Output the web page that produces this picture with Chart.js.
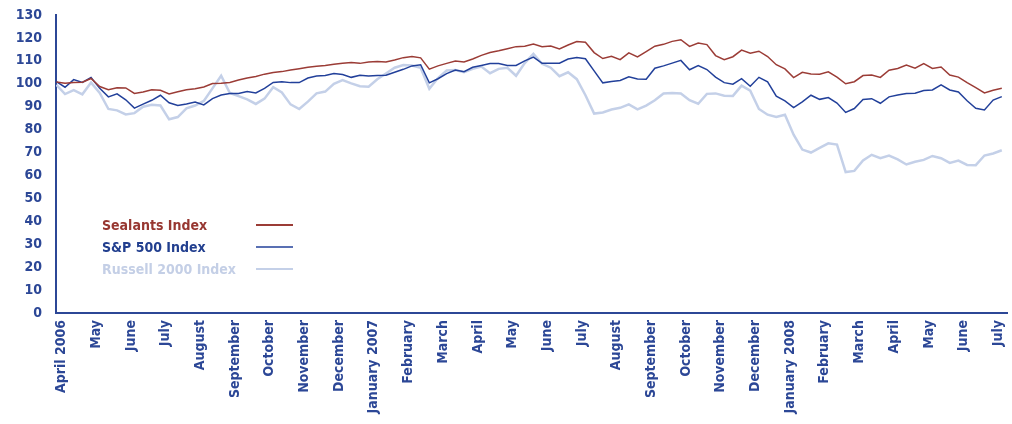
<!DOCTYPE html>
<html>
<head>
<meta charset="utf-8">
<script src="https://cdn.jsdelivr.net/npm/chart.js@4.4.1/dist/chart.umd.min.js"></script>
<style>
  html, body { margin: 0; padding: 0; background: #ffffff; }
  #wrap { width: 1012px; height: 424px; }
</style>
</head>
<body>
<div id="wrap"><canvas id="IndexChart" width="1012" height="424"></canvas></div>
<script>
// month tick labels, one per month from April 2006
const monthLabels = ['April 2006', 'May', 'June', 'July', 'August', 'September', 'October', 'November',
    'December', 'January 2007', 'February', 'March', 'April', 'May', 'June', 'July', 'August',
    'September', 'October', 'November', 'December', 'January 2008', 'February', 'March', 'April',
    'May', 'June', 'July'];

// weekly readings (roughly 4 per month), first one a few days before the April 2006 tick
const firstWeek = -0.15;
const weekStep = 0.25;

const sealants = [100.8, 100.2, 100.5, 100.7, 102.3, 98.8, 97.4, 98.3, 98.2, 95.8,
    96.4, 97.4, 97.2, 95.6, 96.5, 97.4, 97.8, 98.6, 100.1, 100.2,
    100.6, 101.6, 102.5, 103.2, 104.2, 104.9, 105.3, 106.0, 106.6, 107.2,
    107.6, 108.0, 108.5, 109.0, 109.3, 108.9, 109.5, 109.7, 109.5, 110.4,
    111.4, 111.9, 111.3, 106.4, 107.8, 108.9, 109.9, 109.5, 110.8, 112.4,
    113.6, 114.4, 115.3, 116.2, 116.4, 117.3, 116.2, 116.5, 115.2, 116.9,
    118.4, 118.1, 113.6, 111.0, 112.0, 110.5, 113.5, 111.7, 114.0, 116.4,
    117.2, 118.5, 119.2, 116.3, 117.8, 117.1, 112.3, 110.5, 111.8, 114.7,
    113.3, 114.2, 111.9, 108.3, 106.5, 102.7, 105.0, 104.3, 104.2, 105.2,
    102.9, 100.0, 100.9, 103.6, 103.8, 102.8, 105.9, 106.7, 108.2, 106.8,
    108.8, 106.7, 107.3, 103.8, 102.9, 100.5, 98.3, 96.0, 97.2, 98.0];

const sp500 = [100.9, 98.5, 101.8, 100.6, 102.7, 98.0, 94.3, 95.6, 93.0, 89.4,
    91.1, 92.8, 95.0, 91.7, 90.5, 91.2, 92.0, 90.8, 93.5, 95.1,
    95.8, 95.8, 96.6, 96.0, 98.0, 100.6, 100.9, 100.5, 100.5, 102.5,
    103.4, 103.6, 104.5, 104.0, 102.8, 103.7, 103.4, 103.6, 103.7, 105.0,
    106.3, 107.8, 108.3, 100.4, 102.2, 104.4, 106.0, 105.3, 107.2, 108.0,
    108.8, 108.8, 108.0, 108.0, 110.0, 111.6, 108.9, 109.0, 109.0, 110.8,
    111.5, 110.9, 105.6, 100.4, 101.0, 101.4, 103.0, 102.1, 102.0, 106.8,
    107.8, 109.0, 110.2, 106.1, 107.9, 106.2, 102.9, 100.5, 99.8, 102.2,
    98.9, 102.8, 100.8, 94.6, 92.5, 89.6, 92.1, 95.0, 93.2, 94.0,
    91.6, 87.5, 89.2, 93.1, 93.5, 91.5, 94.3, 95.1, 95.8, 95.9,
    97.1, 97.3, 99.5, 97.3, 96.4, 92.6, 89.3, 88.6, 92.9, 94.4];

const russell2000 = [99.5, 95.5, 97.2, 95.4, 100.5, 96.0, 89.0, 88.4, 86.6, 87.2,
    90.0, 90.8, 90.5, 84.5, 85.5, 89.3, 90.5, 92.5, 98.0, 103.5,
    96.0, 94.6, 93.2, 91.2, 93.5, 98.5, 96.2, 91.0, 89.0, 92.2,
    95.8, 96.6, 100.0, 101.6, 100.2, 98.9, 98.7, 102.0, 104.5, 107.0,
    108.2, 108.0, 107.0, 97.8, 102.5, 105.8, 106.0, 105.0, 106.5, 107.5,
    104.6, 106.5, 107.0, 103.5, 109.0, 113.0, 108.7, 107.0, 103.3, 105.0,
    102.0, 95.0, 87.0, 87.5, 88.8, 89.5, 91.0, 88.8, 90.5, 92.8,
    95.8, 96.0, 95.8, 92.8, 91.3, 95.6, 95.8, 94.8, 94.7, 99.2,
    97.0, 89.0, 86.5, 85.5, 86.5, 77.8, 71.3, 70.0, 72.0, 74.0,
    73.5, 61.5, 62.0, 66.5, 69.0, 67.5, 68.7, 67.0, 64.8, 66.0,
    66.8, 68.5, 67.5, 65.5, 66.5, 64.6, 64.5, 68.7, 69.6, 71.0];

const yTicks = [0, 10, 20, 30, 40, 50, 60, 70, 80, 90, 100, 110, 120, 130];

const axisBlue = '#2c4796';
const tickFont = "'Liberation Sans Narrow', 'DejaVu Sans Condensed', 'Liberation Sans', sans-serif";

function toPoints(values) {
    return values.map((v, i) => ({ x: firstWeek + i * weekStep, y: v }));
}

// legend drawn inside the plot, text on the left and a line sample on the right
const insideLegend = {
    id: 'insideLegend',
    afterDraw(chart) {
        const ctx = chart.ctx;
        const rows = [226, 248, 270];
        const textColors = ['#973731', '#223f8f', '#c4cfe6'];
        ctx.save();
        ctx.font = "bold 14px " + tickFont;
        ctx.textBaseline = 'middle';
        chart.data.datasets.forEach((ds, i) => {
            ctx.fillStyle = textColors[i];
            ctx.fillText(ds.label, 102, rows[i]);
            ctx.strokeStyle = ds.borderColor;
            ctx.lineWidth = i === 1 ? 1.5 : 2;
            ctx.beginPath();
            ctx.moveTo(256, rows[i] - 1);
            ctx.lineTo(293, rows[i] - 1);
            ctx.stroke();
        });
        ctx.restore();
    }
};

const ctx = document.getElementById('IndexChart').getContext('2d');
const chart = new Chart(ctx, {
    type: 'line',
    data: {
        datasets: [{
            label: 'Sealants Index',
            data: toPoints(sealants),
            borderColor: '#9b3c36',
            borderWidth: 1.5,
            pointRadius: 0,
            tension: 0
        }, {
            label: 'S&P 500 Index',
            data: toPoints(sp500),
            borderColor: '#22409a',
            borderWidth: 1.5,
            pointRadius: 0,
            tension: 0
        }, {
            label: 'Russell 2000 Index',
            data: toPoints(russell2000),
            borderColor: '#c4d0e8',
            borderWidth: 2.5,
            pointRadius: 0,
            tension: 0
        }]
    },
    options: {
        responsive: false,
        animation: false,
        layout: { padding: { top: 15, right: 5, left: 0, bottom: 0 } },
        plugins: {
            legend: { display: false },
            tooltip: { enabled: false }
        },
        scales: {
            x: {
                type: 'linear',
                min: -0.16,
                max: 27.25,
                grid: { display: false, drawTicks: false },
                border: { display: true, color: axisBlue, width: 2 },
                afterBuildTicks: scale => {
                    scale.ticks = monthLabels.map((l, i) => ({ value: i }));
                },
                afterFit: scale => {
                    scale.height = 111;
                    scale.paddingLeft = 0;
                    scale.paddingRight = 0;
                },
                ticks: {
                    autoSkip: false,
                    maxRotation: 90,
                    minRotation: 90,
                    padding: 7,
                    color: axisBlue,
                    font: { family: tickFont, size: 14, weight: 'bold' },
                    callback: value => monthLabels[value]
                }
            },
            y: {
                min: 0,
                max: 130,
                grid: { display: false, drawTicks: false },
                border: { display: true, color: axisBlue, width: 2 },
                afterBuildTicks: scale => {
                    scale.ticks = yTicks.map(v => ({ value: v }));
                },
                afterFit: scale => {
                    scale.width = 56;
                    scale.paddingTop = 0;
                    scale.paddingBottom = 0;
                },
                ticks: {
                    autoSkip: false,
                    padding: 14,
                    color: axisBlue,
                    font: { family: tickFont, size: 14, weight: 'bold' }
                }
            }
        }
    },
    plugins: [insideLegend]
});
</script>
</body>
</html>
